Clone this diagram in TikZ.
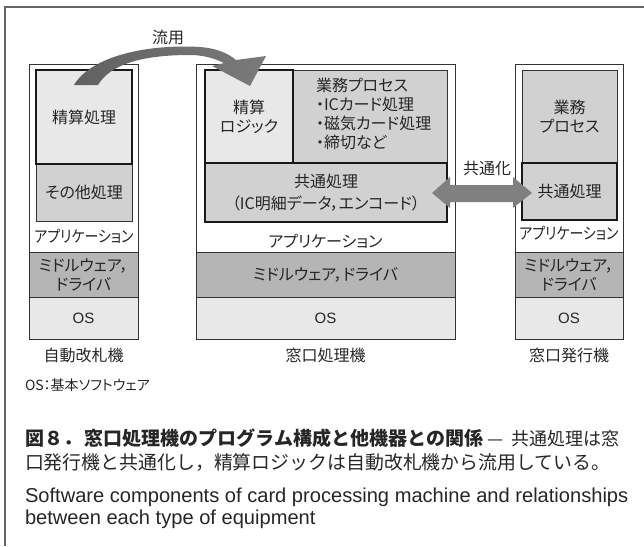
\documentclass[tikz,border=0pt]{standalone}
\usepackage{fontspec}
\setmainfont{Noto Sans CJK JP}
\newfontfamily\jp{Noto Sans CJK JP}[RawFeature=+palt]
\newfontfamily\lat{Liberation Sans}
\begin{document}
\begin{tikzpicture}[x=1pt,y=-1pt,
  every node/.style={inner sep=0pt, outer sep=0pt},
  dev/.style={draw=black!80, line width=0.9pt, fill=white, anchor=north west},
  thickbox/.style={draw=black!90, line width=2.4pt, anchor=north west},
  thinbox/.style={draw=black!80, line width=1pt, anchor=north west},
  lt/.style={fill=black!9}, md/.style={fill=black!18}, dk/.style={fill=black!29},
  lbl/.style={font=\jp\fontsize{16}{19}\selectfont, align=center, text=black!85},
  oslbl/.style={font=\lat\fontsize{15}{18}\selectfont, text=black!85},
  captxt/.style={anchor=west, text=black!85},
]
\useasboundingbox (0,0) rectangle (644,546);
\draw[black!60, line width=1.5pt] (644,7) -- (5,7) -- (5,546);

% left device
\node[dev, minimum width=109, minimum height=275] (L) at (29,64) {};
\node[thinbox, md, minimum width=96, minimum height=57, lbl] (Lother) at (36,164) {};
\node[lbl] at (Lother.center) {その他処理};
\node[thickbox, lt, minimum width=96, minimum height=94] (Lcalc) at (36,70) {};
\node[lbl] at (Lcalc.center) {精算処理};
\node[lbl, xscale=0.87] (Lapp) at (84,236) {アプリケーション};
\node[thinbox, dk, minimum width=109, minimum height=45] (Lmw) at (29,252) {};
\node[lbl] at (Lmw.center) {ミドルウェア，\\ドライバ};
\node[thinbox, lt, minimum width=109, minimum height=42] (Los) at (29,297) {};
\node[oslbl] at (Los.center) {OS};
\node[lbl] (Lname) at (83.5,355) {自動改札機};

% middle device
\node[dev, minimum width=259, minimum height=275] (M) at (196,64) {};
\node[thinbox, md, minimum width=154, minimum height=93] (Mbiz) at (293,70) {};
\node[lbl, anchor=north west, align=left] (Mbiztext) at (316,78) {業務プロセス\\・ICカード処理\\・磁気カード処理\\・締切など};
\node[thickbox, lt, minimum width=88, minimum height=93] (Mcalc) at (205,70) {};
\node[lbl] at (Mcalc.center) {精算\\ロジック};
\node[thickbox, md, minimum width=242, minimum height=59] (Mcom) at (205,163) {};
\node[lbl, font=\jp\fontsize{16}{22}\selectfont] at (Mcom.center) {共通処理\\（IC明細データ，エンコード）};
\node[lbl] (Mapp) at (325.5,241) {アプリケーション};
\node[thinbox, dk, minimum width=259, minimum height=45] (Mmw) at (196,252) {};
\node[lbl] at (Mmw.center) {ミドルウェア，ドライバ};
\node[thinbox, lt, minimum width=259, minimum height=42] (Mos) at (196,297) {};
\node[oslbl] at (Mos.center) {OS};
\node[lbl] (Mname) at (325.5,355) {窓口処理機};

% right device
\node[dev, minimum width=108, minimum height=275] (R) at (515,64) {};
\node[thinbox, md, minimum width=95, minimum height=93] (Rbiz) at (522,70) {};
\node[lbl] at (Rbiz.center) {業務\\プロセス};
\node[thickbox, md, minimum width=95, minimum height=57] (Rcom) at (522,163) {};
\node[lbl] at (Rcom.center) {共通処理};
\node[lbl, xscale=0.87] (Rapp) at (569,233) {アプリケーション};
\node[thinbox, dk, minimum width=108, minimum height=45] (Rmw) at (515,252) {};
\node[lbl] at (Rmw.center) {ミドルウェア，\\ドライバ};
\node[thinbox, lt, minimum width=108, minimum height=42] (Ros) at (515,297) {};
\node[oslbl] at (Ros.center) {OS};
\node[lbl] (Rname) at (569,355) {窓口発行機};

% curved arrow (reuse)
\shade[left color=black!62, middle color=black!32, right color=black!52]
  (74,85) .. controls (92,55) and (150,44) .. (200,47)
  .. controls (215,48) and (228,53) .. (236,60)
  -- (266,56) -- (250,86) -- (212,66) -- (224,63)
  .. controls (212,57) and (200,55) .. (190,55)
  .. controls (140,55) and (110,65) .. (98,85) -- cycle;
\node[lbl] (reuse) at (168,37) {流用};

% double arrow (common)
\fill[black!50] (432,193) -- (450,177) -- (450,185) -- (513,185) -- (513,177)
  -- (532,193) -- (513,208) -- (513,202) -- (450,202) -- (450,208) -- cycle;
\node[lbl] (common) at (487,168) {共通化};

% notes and caption
\node[captxt, font=\jp\fontsize{14}{16}\selectfont] (note) at (25,385) {OS：基本ソフトウェア};
\node[captxt, font=\fontsize{18}{20}\selectfont] (cap1) at (25,438) {{\bfseries\fontsize{19}{20}\selectfont 図８．\hspace{3pt}窓口処理機のプログラム構成と他機器との関係}\hspace{4pt}—\hspace{8pt}共通処理は窓};
\node[captxt, font=\fontsize{18.9}{20}\selectfont] (cap2) at (25,463) {口発行機と共通化し，精算ロジックは自動改札機から流用している。};
\node[captxt, font=\lat\fontsize{20.1}{20}\selectfont] (cap3) at (25,497) {Software components of card processing machine and relationships};
\node[captxt, font=\lat\fontsize{20.1}{20}\selectfont] (cap4) at (25,519) {between each type of equipment};
\end{tikzpicture}
\end{document}
